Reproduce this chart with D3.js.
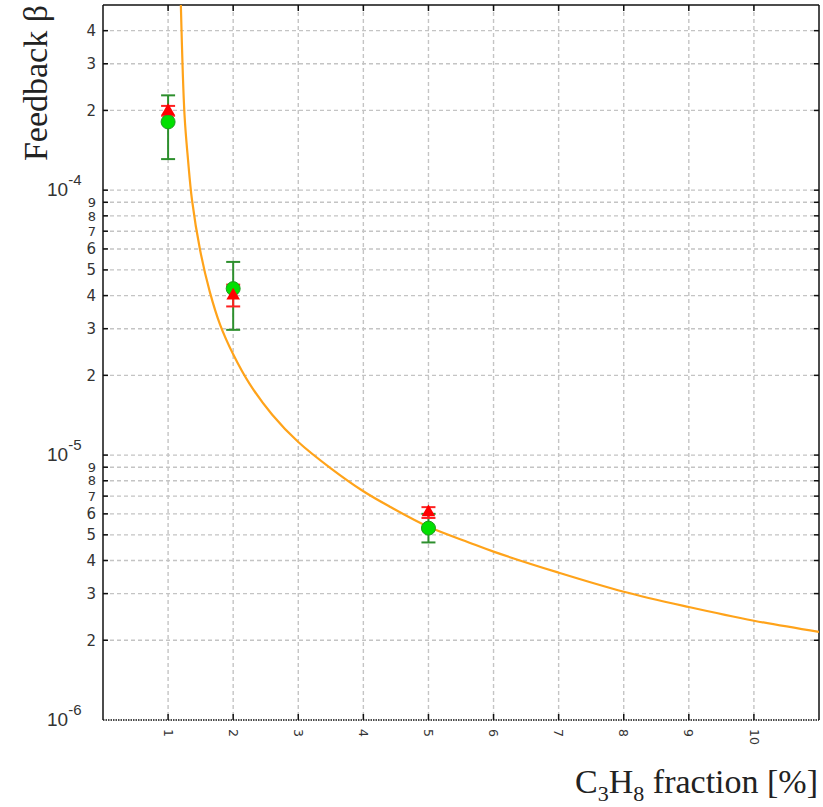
<!DOCTYPE html>
<html>
<head>
<meta charset="utf-8">
<script src="https://cdn.jsdelivr.net/npm/d3@7"></script>
<style>
  html, body { margin: 0; padding: 0; background: #fff; }
  svg { display: block; }
</style>
</head>
<body>
<svg id="chart" width="823" height="807"></svg>
<script>
// Propane fraction (%) at which the feedback parameter was measured
const fractions = [1, 2, 5];

// Method A (red triangles): value and error band
const betaRed     = [1.99e-4, 4.00e-5, 6.08e-6];
const betaRedLow  = [1.91e-4, 3.64e-5, 5.79e-6];
const betaRedHigh = [2.08e-4, 4.40e-5, 6.36e-6];

// Method B (green circles): value and error band
const betaGreen     = [1.81e-4, 4.25e-5, 5.30e-6];
const betaGreenLow  = [1.31e-4, 2.97e-5, 4.68e-6];
const betaGreenHigh = [2.28e-4, 5.36e-5, 6.00e-6];

// Model curve, sampled points
const curveX = [1.194, 1.252, 1.306, 1.367, 1.49, 1.64, 1.80, 2.00, 2.25, 2.60, 3.00, 3.50, 4.00, 4.40, 5.00, 5.63, 6.00, 7.00, 8.00, 9.00, 10.00, 11.00];
const curveY = [5.25e-4, 1.93e-4, 1.305e-4, 9.2e-5, 5.97e-5, 4.14e-5, 3.1e-5, 2.40e-5, 1.86e-5, 1.42e-5, 1.12e-5, 8.91e-6, 7.3e-6, 6.40e-6, 5.36e-6, 4.67e-6, 4.32e-6, 3.60e-6, 3.05e-6, 2.67e-6, 2.37e-6, 2.15e-6];

// Axis ticks
const xTicks = [1, 2, 3, 4, 5, 6, 7, 8, 9, 10];
const decades = [-6, -5, -4];
const mantissas = [2, 3, 4, 5, 6, 7, 8, 9];

const svg = d3.select("#chart");
const L = 103, R = 819, T = 5, B = 720;

const x = d3.scaleLinear().domain([0, 11]).range([L, R]);
const y = d3.scaleLog().domain([1e-6, 5e-4]).range([B, T]);

const gridColor = "#c4c4c4";

// Minor and decade values inside the domain
const yGridVals = [];
decades.forEach(e => {
  const base = Math.pow(10, e);
  if (base > 1e-6) yGridVals.push({ v: base, decade: true, e: e });
  mantissas.forEach(m => {
    const v = m * base;
    if (v < 5e-4 * 0.999) yGridVals.push({ v: v, decade: false, m: m });
  });
});

const defs = svg.append("defs");
defs.append("clipPath").attr("id", "plotClip")
  .append("rect").attr("x", L).attr("y", T).attr("width", R - L).attr("height", B - T);

// Grid
const grid = svg.append("g");
grid.selectAll("line.h").data(yGridVals).join("line")
  .attr("x1", L).attr("x2", R)
  .attr("y1", d => y(d.v)).attr("y2", d => y(d.v))
  .attr("stroke", gridColor).attr("stroke-width", 1.4)
  .attr("stroke-dasharray", "4,3");
grid.selectAll("line.v").data(xTicks).join("line")
  .attr("x1", d => x(d)).attr("x2", d => x(d))
  .attr("y1", T).attr("y2", B)
  .attr("stroke", gridColor).attr("stroke-width", 1.4)
  .attr("stroke-dasharray", "4,3");

// Frame
const frame = svg.append("g").attr("stroke", "#111").attr("fill", "none");
frame.append("line").attr("x1", L).attr("x2", R).attr("y1", T).attr("y2", T).attr("stroke-width", 1.5);
frame.append("line").attr("x1", L).attr("x2", L).attr("y1", T).attr("y2", B).attr("stroke-width", 1.5);
frame.append("line").attr("x1", R).attr("x2", R).attr("y1", T).attr("y2", B).attr("stroke-width", 1.5);
frame.append("line").attr("x1", L).attr("x2", R).attr("y1", B).attr("y2", B)
  .attr("stroke-width", 1.6).attr("stroke-dasharray", "1.5,1");

// Tick marks (inward)
const tickG = svg.append("g").attr("stroke", "#111").attr("stroke-width", 1.5);
xTicks.forEach(t => {
  tickG.append("line").attr("x1", x(t)).attr("x2", x(t)).attr("y1", B).attr("y2", B - 6);
  tickG.append("line").attr("x1", x(t)).attr("x2", x(t)).attr("y1", T).attr("y2", T + 6);
});
yGridVals.forEach(d => {
  tickG.append("line").attr("x1", L).attr("x2", L + 5).attr("y1", y(d.v)).attr("y2", y(d.v));
  tickG.append("line").attr("x1", R).attr("x2", R - 5).attr("y1", y(d.v)).attr("y2", y(d.v));
});

// Y tick labels (7, 8, 9 sit close together near each decade)
const yLab = svg.append("g").attr("fill", "#333").attr("font-family", "DejaVu Sans, sans-serif");
yGridVals.filter(d => !d.decade).forEach(d => {
  yLab.append("text").attr("x", 96).attr("y", y(d.v)).attr("dy", "0.36em")
    .attr("text-anchor", "end").attr("font-size", d.m >= 7 ? 13 : 15).text(d.m);
});
decades.forEach(e => {
  const t = yLab.append("text").attr("x", 47).attr("y", y(Math.pow(10, e)) + 6)
    .attr("font-family", "Liberation Sans, Arial, sans-serif").attr("font-size", 19);
  t.append("tspan").text("10");
  t.append("tspan").attr("dy", -11).attr("font-size", 15).text("-" + Math.abs(e));
});

// X tick labels (rotated)
const xLab = svg.append("g").attr("fill", "#333").attr("font-family", "DejaVu Sans, sans-serif");
xTicks.forEach(t => {
  xLab.append("text")
    .attr("transform", `translate(${x(t)},729) rotate(90)`)
    .attr("dy", "0.35em").attr("font-size", 12.5).text(t);
});

// Axis titles
svg.append("text")
  .attr("transform", "translate(47,5) rotate(-90)")
  .attr("text-anchor", "end")
  .attr("font-family", "Liberation Serif, Times New Roman, serif")
  .attr("font-size", 34).attr("fill", "#222")
  .text("Feedback β");

const xt = svg.append("text")
  .attr("x", 818).attr("y", 793)
  .attr("text-anchor", "end")
  .attr("font-family", "Liberation Serif, Times New Roman, serif")
  .attr("font-size", 34).attr("fill", "#222");
xt.append("tspan").text("C");
xt.append("tspan").attr("dy", 8).attr("font-size", 22).text("3");
xt.append("tspan").attr("dy", -8).text("H");
xt.append("tspan").attr("dy", 8).attr("font-size", 22).text("8");
xt.append("tspan").attr("dy", -8).text(" fraction [%]");

// Model curve
const curvePts = curveX.map((v, i) => [v, curveY[i]]);
svg.append("path")
  .attr("clip-path", "url(#plotClip)")
  .attr("d", d3.line().x(d => x(d[0])).y(d => y(d[1])).curve(d3.curveCatmullRom.alpha(0.5))(curvePts))
  .attr("fill", "none").attr("stroke", "#ffa31a").attr("stroke-width", 2.2);

// Error bars
function errorBars(low, high, color, width, cap) {
  const g = svg.append("g").attr("stroke", color).attr("stroke-width", width);
  fractions.forEach((f, i) => {
    const cx = x(f);
    g.append("line").attr("x1", cx).attr("x2", cx).attr("y1", y(low[i])).attr("y2", y(high[i]));
    g.append("line").attr("x1", cx - cap).attr("x2", cx + cap).attr("y1", y(low[i])).attr("y2", y(low[i]));
    g.append("line").attr("x1", cx - cap).attr("x2", cx + cap).attr("y1", y(high[i])).attr("y2", y(high[i]));
  });
}
errorBars(betaGreenLow, betaGreenHigh, "#2d8f2d", 2, 7);
errorBars(betaRedLow, betaRedHigh, "#ff2020", 2, 7);

// Markers
svg.append("g").selectAll("circle").data(fractions).join("circle")
  .attr("cx", d => x(d)).attr("cy", (d, i) => y(betaGreen[i]))
  .attr("r", 7).attr("fill", "#00e000").attr("stroke", "#1f9a1f").attr("stroke-width", 1);

const tri = d3.symbol().type(d3.symbolTriangle).size(80);
svg.append("g").selectAll("path").data(fractions).join("path")
  .attr("transform", (d, i) => `translate(${x(d)},${y(betaRed[i])})`)
  .attr("d", tri).attr("fill", "#ff0000");
</script>
</body>
</html>
